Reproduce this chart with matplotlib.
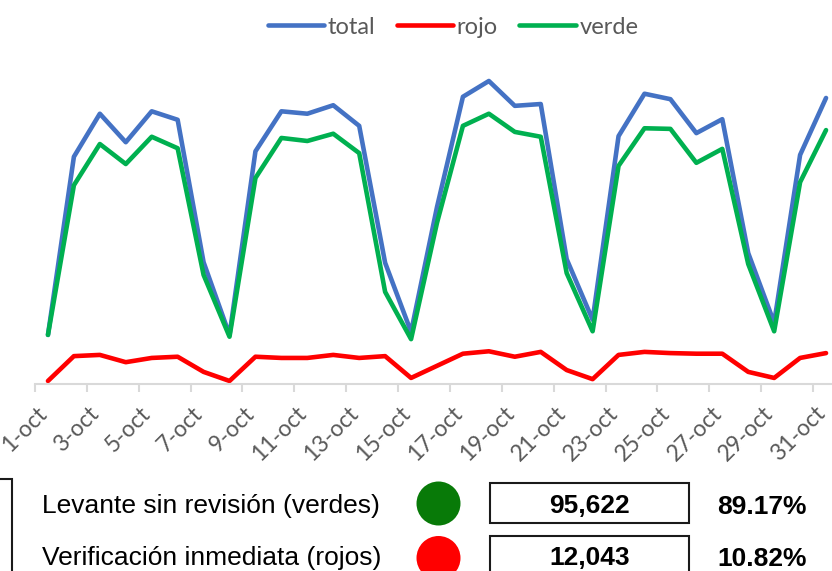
import matplotlib.pyplot as plt
import matplotlib.transforms as mtransforms
from matplotlib.patches import Rectangle, Ellipse
import numpy as np

# daily values (1-oct .. 31-oct)
dias = np.arange(1, 32)
etiquetas = [f"{d}-oct" for d in range(1, 32, 2)]
total = [810, 3750, 4460, 3990, 4500, 4360, 2010, 810, 3840, 4500, 4460, 4600, 4260, 2000, 860, 2920,
         4740, 5000, 4590, 4620, 2060, 1060, 4090, 4790, 4700, 4140, 4370, 2160, 1010, 3780, 4720]
rojo = [50, 460, 480, 360, 430, 450, 200, 50, 450, 430, 430, 480, 430, 460, 100, 300,
        500, 540, 450, 530, 230, 80, 480, 530, 510, 500, 500, 200, 100, 430, 510]
verde = [810, 3280, 3960, 3630, 4080, 3890, 1800, 780, 3400, 4060, 4010, 4130, 3810, 1520, 740, 2660,
         4260, 4460, 4160, 4080, 1830, 870, 3600, 4220, 4210, 3650, 3880, 1980, 870, 3330, 4190]

resumen_txt = ["Levante sin revisión (verdes)", "Verificación inmediata (rojos)"]
resumen_val = ["95,622", "12,043"]
resumen_pct = ["89.17%", "10.82%"]

W, H = 832, 571
fig = plt.figure(figsize=(W / 100, H / 100), dpi=100)

def fx(x):
    return x / W

def fy(y):
    return 1 - y / H

# axes: 0.5 -> px 35, 31.5 -> px 839 ; y=0 at px 384, 6000 at px ~20
ax = fig.add_axes([fx(35), fy(384), (839 - 35) / W, (384 - 20.4) / H])
kw = dict(lw=3.3, solid_capstyle="round", solid_joinstyle="round")
ax.plot(dias, total, color="#4472C4", label="total", **kw)
ax.plot(dias, rojo, color="#FF0000", label="rojo", **kw)
ax.plot(dias, verde, color="#00B050", label="verde", **kw)

ax.set_xlim(0.5, 31.5)
ax.set_ylim(0, 6000)
ax.set_yticks([])
for s in ["left", "right", "top"]:
    ax.spines[s].set_visible(False)
ax.spines["bottom"].set_color("#D9D9D9")
ax.spines["bottom"].set_linewidth(1.5)

ax.set_xticks(range(1, 32, 2))
ax.set_xticklabels(etiquetas, rotation=45, ha="right", va="center", rotation_mode="anchor",
                   fontsize=16.5, color="#595959", family="Lato")
ax.set_xticks(np.arange(0.5, 31, 2), minor=True)
ax.tick_params(axis="x", which="major", length=0, pad=19)
ax.tick_params(axis="x", which="minor", length=5.5, width=1.5, color="#D9D9D9")
shift = mtransforms.ScaledTranslation(-4 / 100, 0, fig.dpi_scale_trans)
for lab in ax.get_xticklabels():
    lab.set_transform(lab.get_transform() + shift)

fig.legend(loc="center", bbox_to_anchor=(fx(453), fy(27)), ncol=3, frameon=False,
           prop={"family": "Lato", "size": 17}, labelcolor="#595959",
           handlelength=2.4, handletextpad=0.15, columnspacing=0.9, borderaxespad=0)

# summary block at the bottom
fig.add_artist(Rectangle((fx(-20), fy(600)), (12 + 20) / W, (600 - 479) / H,
                         transform=fig.transFigure, fill=False, ec="#1a1a1a", lw=1.5, clip_on=False))
base = [513, 565]
circ_col = ["#087A08", "#FF0000"]
circ_y = [503.5, 558]
box_top = [483, 536]
for i in range(2):
    fig.text(fx(42), fy(base[i]), resumen_txt[i], fontsize=19, family="Liberation Sans",
             va="baseline", ha="left", color="black")
    fig.add_artist(Ellipse((fx(438.5), fy(circ_y[i])), 44 / W, 44 / H, transform=fig.transFigure,
                           color=circ_col[i], lw=0))
    fig.add_artist(Rectangle((fx(490), fy(box_top[i] + 40)), (689 - 490) / W, 40 / H,
                             transform=fig.transFigure, fill=False, ec="#1a1a1a", lw=1.5))
    fig.text(fx(589.5), fy(base[i]), resumen_val[i], fontsize=19, family="Liberation Sans",
             weight="bold", va="baseline", ha="center")
    fig.text(fx(762), fy(base[i] + 1), resumen_pct[i], fontsize=19, family="Liberation Sans",
             weight="bold", va="baseline", ha="center")

fig.savefig("out.png", dpi=100)
